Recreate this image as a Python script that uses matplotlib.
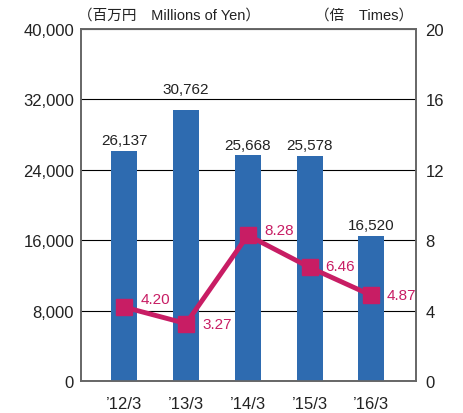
import matplotlib
matplotlib.use("Agg")
from matplotlib import pyplot as plt
from matplotlib.ticker import FuncFormatter

plt.rcParams['font.family'] = ['Liberation Sans', 'Noto Sans CJK JP', 'DejaVu Sans']

# 数据
years = ["\u201912/3", "\u201913/3", "\u201914/3", "\u201915/3", "\u201916/3"]
sales = [26137, 30762, 25668, 25578, 16520]
times = [4.20, 3.27, 8.28, 6.46, 4.87]

bar_color = "#2e6bb0"
line_color = "#c81d64"
spine_color = "#666666"

fig = plt.figure(figsize=(4.63, 4.14), dpi=100)
ax = fig.add_axes([0.175, 0.077, 0.723, 0.851])
x = list(range(len(years)))

ax.bar(x, sales, width=0.42, color=bar_color, zorder=3)
ax.set_ylim(0, 40000)
ax.set_xlim(-0.7, 4.72)
ax.set_yticks(range(0, 40001, 8000))
ax.yaxis.set_major_formatter(FuncFormatter(lambda v, p: "{:,}".format(int(v))))
ax.grid(axis="y", color="black", linewidth=0.8, zorder=1)
ax.set_xticks(x)
ax.set_xticklabels(years, fontsize=12, color="#222222")
ax.tick_params(axis="both", length=0, labelsize=12, colors="#222222")
ax.tick_params(axis="y", pad=5)
ax.tick_params(axis="x", pad=11)
for s in ax.spines.values():
    s.set_color(spine_color)
    s.set_linewidth(1.2)

# 柱子上方的数值
lift = [400, 1600, 400, 400, 400]
for xi, v, d in zip(x, sales, lift):
    ax.text(xi, v + d, "{:,}".format(v), ha="center", va="bottom", fontsize=11, color="#222222", zorder=5)

ax2 = ax.twinx()
ax2.set_ylim(0, 20)
ax2.set_yticks(range(0, 21, 4))
ax2.tick_params(axis="y", length=0, labelsize=12, colors="#222222", pad=7)
ax2.plot(x, times, color=line_color, linewidth=3.5, marker="s", markersize=11, zorder=4)
for s in ax2.spines.values():
    s.set_color(spine_color)
    s.set_linewidth(1.2)

offsets = [(0.27, 0.45), (0.27, -0.05), (0.27, 0.28), (0.26, 0.1), (0.24, 0.0)]
for xi, v, (dx, dy) in zip(x, times, offsets):
    ax2.text(xi + dx, v + dy, "{:.2f}".format(v), ha="left", va="center", fontsize=11, color=line_color, zorder=5)

fig.text(0.168, 0.963, "（百万円　Millions of Yen）", ha="left", va="center", fontsize=10.5,
         color="#222222")
fig.text(0.892, 0.963, "（倍　Times）", ha="right", va="center", fontsize=10.5,
         color="#222222")

plt.savefig("out.png")
